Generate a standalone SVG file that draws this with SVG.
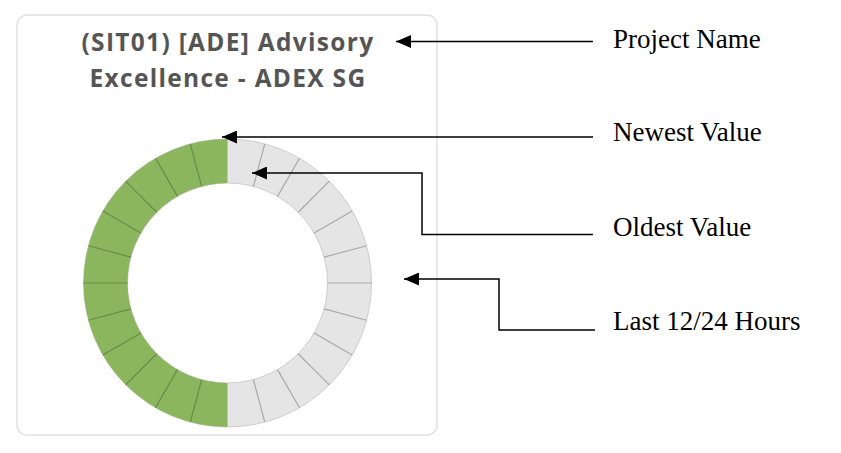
<svg xmlns="http://www.w3.org/2000/svg" width="841" height="453" viewBox="0 0 841 453">
  <defs>
    <marker id="arrow" markerUnits="userSpaceOnUse" markerWidth="15" markerHeight="13" refX="15" refY="6.5" orient="auto">
      <path d="M0,0 L15,6.5 L0,13 Z" fill="#000"/>
    </marker>
  </defs>
  <style>
    .title { font-family: "Open Sans", "Noto Sans", sans-serif; font-weight: 700; font-size: 24.5px; letter-spacing: 1.3px; fill: #555; text-anchor: middle; }
    .label { font-family: "Liberation Serif", "Times New Roman", serif; font-size: 27px; fill: #000; }
    .conn { fill: none; stroke: #000; stroke-width: 1.5; marker-end: url(#arrow); }
    .sepGray { stroke: #a9a9a9; stroke-width: 1.2; }
    .sepGreen { stroke: #6a8a4c; stroke-width: 1.2; }
  </style>
  <rect width="841" height="453" fill="#fff"/>

  <g id="card">
    <rect x="17" y="15" width="420" height="420" rx="10" ry="10" fill="#fff" stroke="#e2e2e2" stroke-width="1.5"/>
    <text class="title" x="228" y="51">(SIT01) [ADE] Advisory</text>
    <text class="title" x="228" y="87">Excellence - ADEX SG</text>
  </g>

  <g id="ring">
    <path d="M227.5 139 A144 144 0 1 1 227.5 427 A144 144 0 1 1 227.5 139 Z M227.5 183 A100 100 0 1 0 227.5 383 A100 100 0 1 0 227.5 183 Z" fill="#e5e5e5" fill-rule="evenodd" stroke="#cdcdcd" stroke-width="1"/>
    <path d="M227.5 139 A144 144 0 0 0 227.5 427 L227.5 383 A100 100 0 0 1 227.5 183 Z" fill="#8bb65e"/>
    <g class="sepGray">
      <line x1="253.38" y1="186.41" x2="264.77" y2="143.91"/>
      <line x1="277.5" y1="196.4" x2="299.5" y2="158.29"/>
      <line x1="298.21" y1="212.29" x2="329.32" y2="181.18"/>
      <line x1="314.1" y1="233" x2="352.21" y2="211"/>
      <line x1="324.09" y1="257.12" x2="366.59" y2="245.73"/>
      <line x1="327.5" y1="283" x2="371.5" y2="283"/>
      <line x1="324.09" y1="308.88" x2="366.59" y2="320.27"/>
      <line x1="314.1" y1="333" x2="352.21" y2="355"/>
      <line x1="298.21" y1="353.71" x2="329.32" y2="384.82"/>
      <line x1="277.5" y1="369.6" x2="299.5" y2="407.71"/>
      <line x1="253.38" y1="379.59" x2="264.77" y2="422.09"/>
    </g>
    <g class="sepGreen">
      <line x1="201.62" y1="379.59" x2="190.23" y2="422.09"/>
      <line x1="177.5" y1="369.6" x2="155.5" y2="407.71"/>
      <line x1="156.79" y1="353.71" x2="125.68" y2="384.82"/>
      <line x1="140.9" y1="333" x2="102.79" y2="355"/>
      <line x1="130.91" y1="308.88" x2="88.41" y2="320.27"/>
      <line x1="127.5" y1="283" x2="83.5" y2="283"/>
      <line x1="130.91" y1="257.12" x2="88.41" y2="245.73"/>
      <line x1="140.9" y1="233" x2="102.79" y2="211"/>
      <line x1="156.79" y1="212.29" x2="125.68" y2="181.18"/>
      <line x1="177.5" y1="196.4" x2="155.5" y2="158.29"/>
      <line x1="201.62" y1="186.41" x2="190.23" y2="143.91"/>
    </g>
  </g>

  <g id="connectors">
    <path class="conn" d="M593 41.5 H396"/>
    <path class="conn" d="M593 137 H222"/>
    <path class="conn" d="M593 234.5 H422 V173 H252"/>
    <path class="conn" d="M595 330 H499 V279 H404"/>
  </g>

  <g id="label-project-name"><text class="label" x="613" y="48">Project Name</text></g>
  <g id="label-newest-value"><text class="label" x="613" y="141">Newest Value</text></g>
  <g id="label-oldest-value"><text class="label" x="613" y="236">Oldest Value</text></g>
  <g id="label-last-hours"><text class="label" x="613" y="330">Last 12/24 Hours</text></g>
</svg>
